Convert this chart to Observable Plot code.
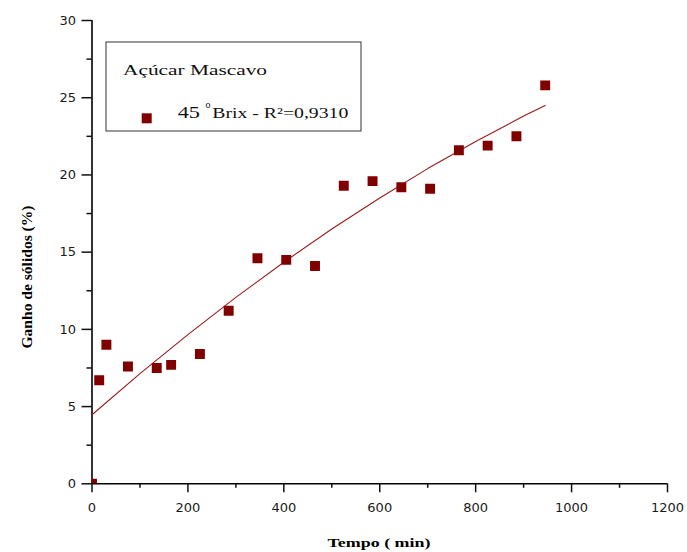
<!DOCTYPE html>
<html>
<head>
<meta charset="utf-8">
<script src="https://cdn.jsdelivr.net/npm/d3@7"></script>
<script src="https://cdn.jsdelivr.net/npm/@observablehq/plot@0.6"></script>
<style>
  html, body { margin: 0; padding: 0; background: #fff; }
  #chart { position: relative; width: 687px; height: 552px; }
</style>
</head>
<body>
<div id="chart"></div>
<script>
// Data
const tempo = [0, 15, 30, 75, 135, 165, 225, 285, 345, 405, 465, 525, 585, 645, 705, 765, 825, 885, 945];
const ganho = [0, 6.7, 9.0, 7.6, 7.5, 7.7, 8.4, 11.2, 14.6, 14.5, 14.1, 19.3, 19.6, 19.2, 19.1, 21.6, 21.9, 22.5, 25.8];

// Fitted curve
const fitTempo = [0, 100, 200, 300, 400, 500, 600, 700, 800, 900, 945];
const fitGanho = [4.47, 7.13, 9.66, 12.07, 14.35, 16.50, 18.51, 20.41, 22.17, 23.81, 24.50];

const xTicks = [0, 200, 400, 600, 800, 1000, 1200];
const xMinor = [100, 300, 500, 700, 900, 1100];
const yTicks = [0, 5, 10, 15, 20, 25, 30];
const yMinor = [2.5, 7.5, 12.5, 17.5, 22.5, 27.5];

const xTitle = "Tempo ( min)";
const yTitle = "Ganho de sólidos (%)";
const legendTitle = "Açúcar Mascavo";
const seriesName = ["45", "o", "Brix - R²=0,9310"];

const points = tempo.map((t, i) => ({t, g: ganho[i]}));
const fit = fitTempo.map((t, i) => ({t, g: fitGanho[i]}));

const color = "#800000";

const svg = Plot.plot({
  width: 687,
  height: 552,
  marginLeft: 91.5,
  marginRight: 20,
  marginTop: 20,
  marginBottom: 68.7,
  style: {fontFamily: "DejaVu Sans", fontSize: "13px", color: "#111", background: "#fff"},
  x: {domain: [0, 1200], label: null},
  y: {domain: [0, 30], label: null},
  marks: [
    Plot.axisX(xTicks, {tickSize: 9, tickPadding: 10, strokeWidth: 1.5, label: null, tickFormat: d => String(d), fill: "#1a1a1a"}),
    Plot.axisX(xMinor, {tickSize: 4.5, strokeWidth: 1.5, label: null, tickFormat: () => ""}),
    Plot.axisY(yTicks, {tickSize: 10, tickPadding: 6, strokeWidth: 1.5, label: null, tickFormat: d => String(d), fill: "#1a1a1a"}),
    Plot.axisY(yMinor, {tickSize: 5, strokeWidth: 1.5, label: null, tickFormat: () => ""}),
    Plot.ruleX([0], {stroke: "#000", strokeWidth: 1.6}),
    Plot.ruleY([0], {stroke: "#000", strokeWidth: 1.6}),
    Plot.line(fit, {x: "t", y: "g", stroke: "#9a1a1a", strokeWidth: 1.1}),
    Plot.dot(points, {x: "t", y: "g", symbol: "square", r: 5.6, fill: color, stroke: "none", clip: true})
  ]
});

const s = d3.select(svg);

// Axis titles
s.append("text")
  .attr("x", 379).attr("y", 547)
  .attr("text-anchor", "middle")
  .attr("font-family", "Liberation Serif").attr("font-weight", "bold").attr("font-size", 13)
  .attr("textLength", 103).attr("lengthAdjust", "spacingAndGlyphs")
  .attr("fill", "#000")
  .text(xTitle);

s.append("text")
  .attr("transform", "translate(32,277) rotate(-90)")
  .attr("text-anchor", "middle")
  .attr("font-family", "Liberation Serif").attr("font-weight", "bold").attr("font-size", 15.5)
  .attr("textLength", 143).attr("lengthAdjust", "spacingAndGlyphs")
  .attr("fill", "#000")
  .text(yTitle);

// Legend box
const lg = s.append("g").attr("text-anchor", "start");
lg.append("rect")
  .attr("x", 106).attr("y", 42).attr("width", 255).attr("height", 89)
  .attr("fill", "#fff").attr("stroke", "#333").attr("stroke-width", 1);
lg.append("text")
  .attr("x", 123).attr("y", 75.3)
  .attr("text-anchor", "start")
  .attr("font-family", "Liberation Serif").attr("font-size", 15.5)
  .attr("textLength", 144).attr("lengthAdjust", "spacingAndGlyphs")
  .attr("fill", "#111")
  .text(legendTitle);
lg.append("rect")
  .attr("x", 141.7).attr("y", 113.3).attr("width", 10).attr("height", 10)
  .attr("fill", color);
lg.append("text")
  .attr("x", 177.7).attr("y", 118.3)
  .attr("text-anchor", "start")
  .attr("font-family", "Liberation Serif").attr("font-size", 16.5)
  .attr("textLength", 22.3).attr("lengthAdjust", "spacingAndGlyphs")
  .attr("fill", "#111")
  .text(seriesName[0]);
lg.append("text")
  .attr("x", 205.5).attr("y", 108.3)
  .attr("text-anchor", "start")
  .attr("font-family", "Liberation Serif").attr("font-size", 10)
  .attr("fill", "#111")
  .text(seriesName[1]);
lg.append("text")
  .attr("x", 212.3).attr("y", 118.3)
  .attr("text-anchor", "start")
  .attr("font-family", "Liberation Serif").attr("font-size", 14)
  .attr("textLength", 136).attr("lengthAdjust", "spacingAndGlyphs")
  .attr("fill", "#111")
  .text(seriesName[2]);

document.getElementById("chart").appendChild(svg);
</script>
</body>
</html>
